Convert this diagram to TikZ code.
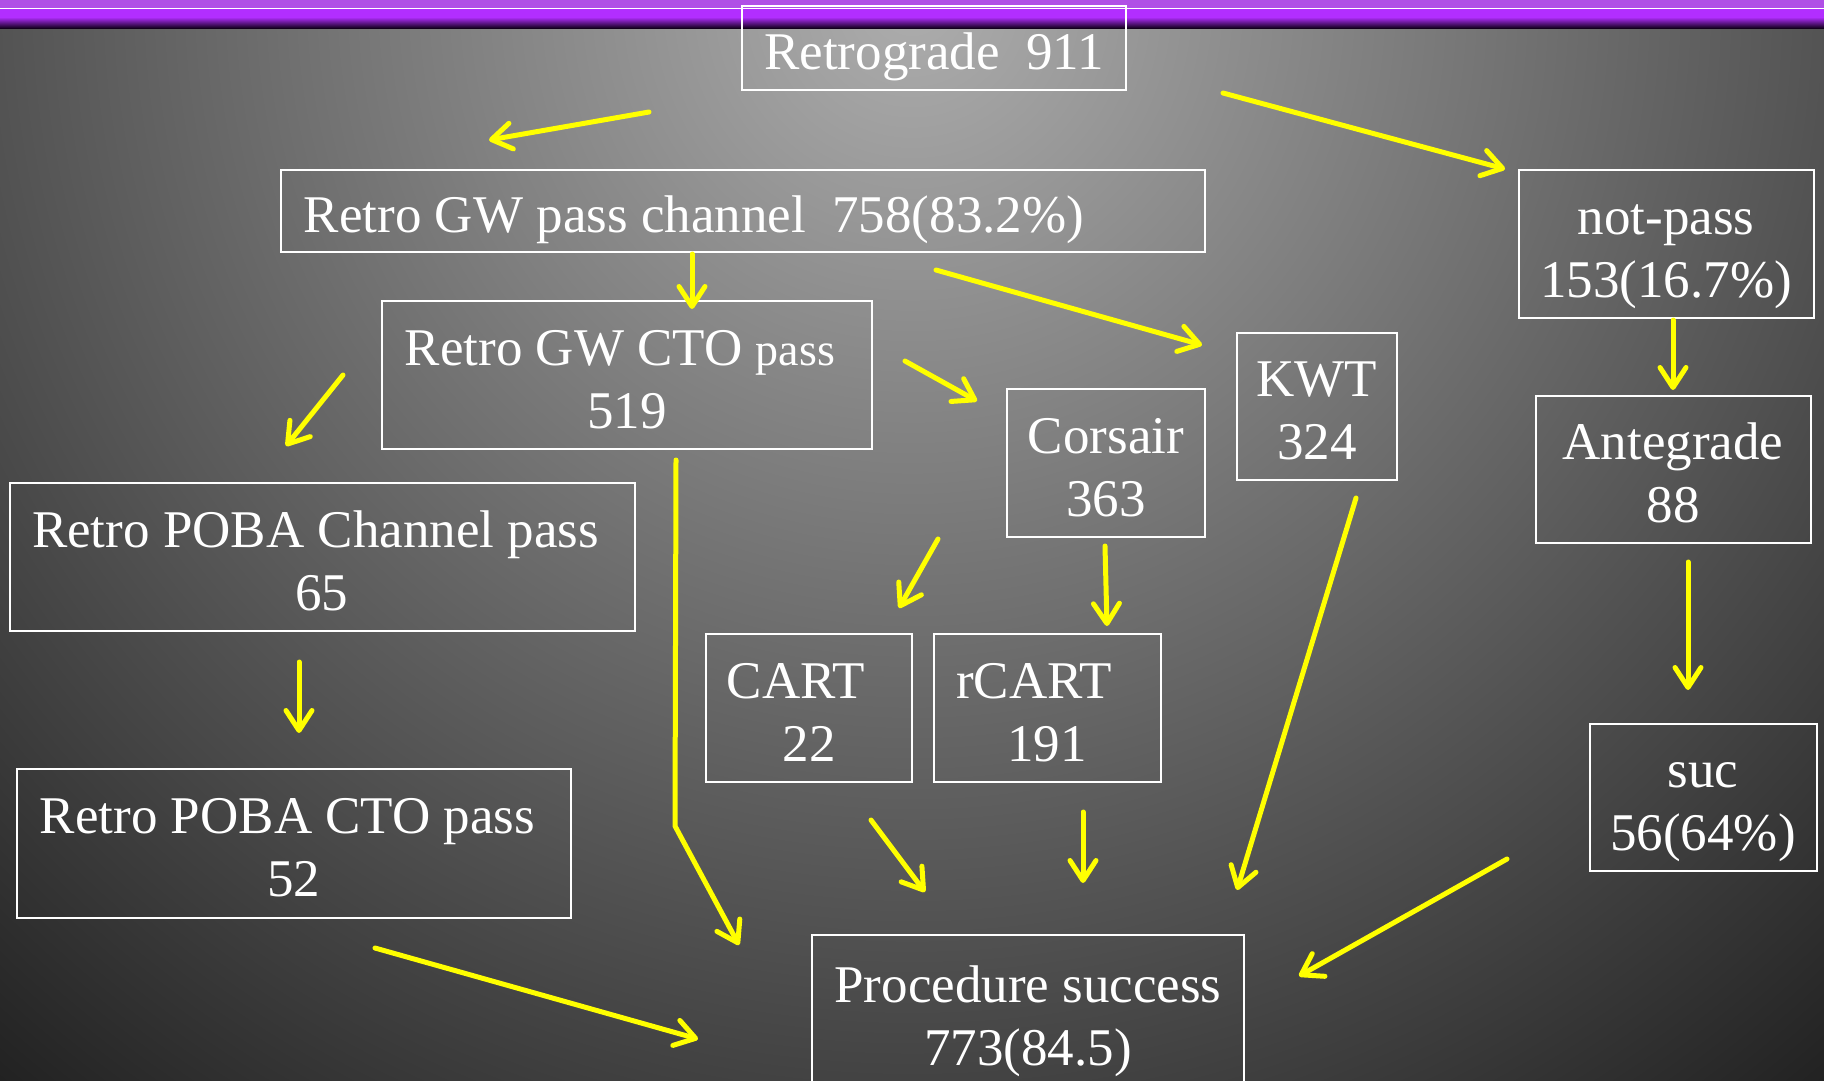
\documentclass[tikz,border=0pt]{standalone}
\usepackage{fontspec}
\setmainfont{Liberation Serif}
\usetikzlibrary{arrows.meta}
\definecolor{barlight}{HTML}{B04FE6}
\definecolor{bar}{HTML}{B22EFF}
\definecolor{bardark}{HTML}{14001E}
\definecolor{centre}{HTML}{ADADAD}
\definecolor{rim}{HTML}{000000}
\definecolor{flowyellow}{HTML}{FFFF00}

\begin{document}
\begin{tikzpicture}[
  x=1pt,y=-1pt,font=\fontsize{53}{63}\selectfont,
  box/.style={draw=white,line width=2pt,text=white,align=center,inner sep=0pt,
    text height=59pt,text depth=16pt},
  pair/.style={box,text height=122pt},
  flow/.style={draw=flowyellow,line width=5pt,line cap=round,line join=round,
    -{Straight Barb[length=20pt,width=26pt,round]}}
]
\clip (0,0) rectangle (1824,1080);

% background and title bar
\shade[inner color=centre,outer color=rim] (912,0) circle (1760);
\fill[barlight] (0,0) rectangle (1824,8);
\fill[bar] (0,9) rectangle (1824,17);
\shade[top color=bar,bottom color=bardark] (0,17) rectangle (1824,28);
\draw[white,line width=1.2pt] (0,8.5) -- (1824,8.5);

% boxes
\node[box,minimum width=384,minimum height=84] (retro) at (934,48) {Retrograde\ \ 911};
\node[box,minimum width=924,minimum height=82] (gwpass) at (743,211)
  {Retro GW pass channel\ \ 758(83.2\%)\hspace*{98pt}};
\node[pair,minimum width=295,minimum height=148] (notpass) at (1666,244) {not-pass\\153(16.7\%)};
\node[pair,minimum width=490,minimum height=148] (gwcto) at (627,375)
  {Retro GW CTO {\fontsize{46}{63}\selectfont pass}\hspace*{14pt}\\519};
\node[pair,minimum width=160,minimum height=147] (kwt) at (1317,406) {KWT\\324};
\node[pair,minimum width=198,minimum height=148] (corsair) at (1106,463) {Corsair\\363};
\node[pair,minimum width=275,minimum height=147] (ante) at (1673,469) {Antegrade\\88};
\node[pair,minimum width=625,minimum height=148] (pobach) at (322,557)
  {Retro POBA Channel pass\hspace*{13pt}\\65};
\node[pair,minimum width=206,minimum height=148] (cart) at (809,708) {CART\hspace*{26pt}\\22};
\node[pair,minimum width=227,minimum height=148] (rcart) at (1047,708) {rCART\hspace*{26pt}\\191};
\node[pair,minimum width=227,minimum height=147] (suc) at (1703,797) {suc\\56(64\%)};
\node[pair,minimum width=554,minimum height=149] (pobacto) at (294,843)
  {Retro POBA CTO pass\hspace*{13pt}\\52};
\node[pair,minimum width=432,minimum height=154] (success) at (1028,1012)
  {Procedure success\\773(84.5)};

% arrow ends
\coordinate (retro-l) at (649,112);  \coordinate (gwpass-in) at (489,140);
\coordinate (retro-r) at (1223,93);  \coordinate (notpass-in) at (1505,169);
\coordinate (gwpass-d) at (692,254); \coordinate (gwcto-in) at (692,309);
\coordinate (gwpass-r) at (936,270); \coordinate (kwt-in) at (1202,345);
\coordinate (gwcto-l) at (343,375);  \coordinate (pobach-in) at (286,446);
\coordinate (gwcto-r) at (905,361);  \coordinate (corsair-in) at (977,401);
\coordinate (gwcto-d) at (676,460);  \coordinate (gwcto-bend) at (675,826);
\coordinate (success-tl) at (739,945);
\coordinate (notpass-d) at (1673,320); \coordinate (ante-in) at (1673,390);
\coordinate (corsair-l) at (938,539);  \coordinate (cart-in) at (899,608);
\coordinate (corsair-d) at (1105,546); \coordinate (rcart-in) at (1107,626);
\coordinate (pobach-d) at (299,662);   \coordinate (pobacto-in) at (299,733);
\coordinate (kwt-d) at (1356,498);     \coordinate (success-tr) at (1237,890);
\coordinate (ante-d) at (1688,562);    \coordinate (suc-in) at (1688,690);
\coordinate (cart-d) at (871,820);     \coordinate (success-t1) at (925,892);
\coordinate (rcart-d) at (1083,812);   \coordinate (success-t2) at (1083,883);
\coordinate (suc-d) at (1507,859);     \coordinate (success-r) at (1299,976);
\coordinate (pobacto-d) at (375,948);  \coordinate (success-l) at (698,1039);

% arrows
\draw[flow] (retro-l) -- (gwpass-in);
\draw[flow] (retro-r) -- (notpass-in);
\draw[flow] (gwpass-d) -- (gwcto-in);
\draw[flow] (gwpass-r) -- (kwt-in);
\draw[flow] (gwcto-l) -- (pobach-in);
\draw[flow] (gwcto-r) -- (corsair-in);
\draw[flow] (gwcto-d) -- (gwcto-bend) -- (success-tl);
\draw[flow] (notpass-d) -- (ante-in);
\draw[flow] (corsair-l) -- (cart-in);
\draw[flow] (corsair-d) -- (rcart-in);
\draw[flow] (pobach-d) -- (pobacto-in);
\draw[flow] (kwt-d) -- (success-tr);
\draw[flow] (ante-d) -- (suc-in);
\draw[flow] (cart-d) -- (success-t1);
\draw[flow] (rcart-d) -- (success-t2);
\draw[flow] (suc-d) -- (success-r);
\draw[flow] (pobacto-d) -- (success-l);
\end{tikzpicture}
\end{document}
